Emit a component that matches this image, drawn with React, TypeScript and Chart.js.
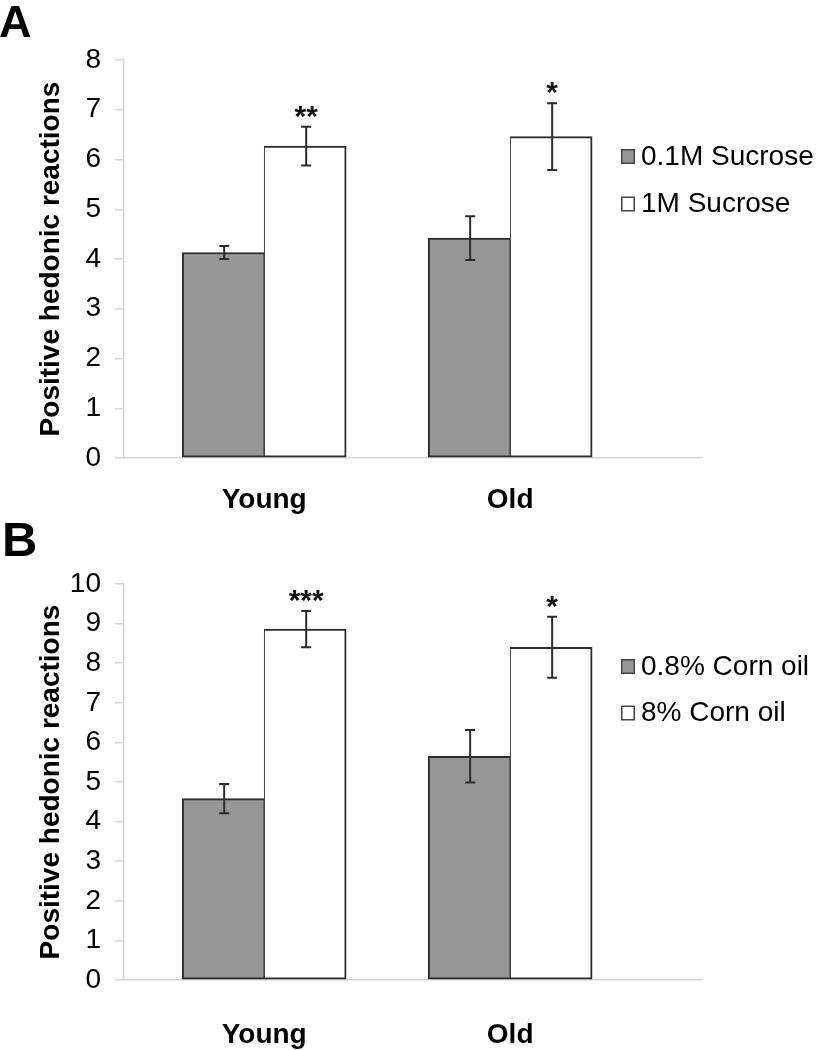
import React, { useEffect, useRef } from 'react';
import { Chart, registerables } from 'chart.js';

Chart.register(...registerables);

const FONT = "'Liberation Sans', Arial, Helvetica, sans-serif";

// ---- shared ----
const categories = ['Young', 'Old'];
const yTitle = 'Positive hedonic reactions';

// ---- Panel A: sucrose ----
const sucroseLabels = ['0.1M Sucrose', '1M Sucrose'];
const sucroseLow = [4.13, 4.42];
const sucroseLowErr = [0.13, 0.44];
const sucroseHigh = [6.27, 6.46];
const sucroseHighErr = [0.39, 0.67];
const sucroseStars = ['**', '*'];
const sucroseYMax = 8;

// ---- Panel B: corn oil ----
const cornLabels = ['0.8% Corn oil', '8% Corn oil'];
const cornLow = [4.58, 5.65];
const cornLowErr = [0.37, 0.66];
const cornHigh = [8.86, 8.4];
const cornHighErr = [0.46, 0.77];
const cornStars = ['***', '*'];
const cornYMax = 10;

const AXIS_GRAY = '#d6d6d6';
const BAR_GRAY = '#969696';
const EDGE = '#2b2b2b';

function makeErrorPlugin(errors: number[][], stars: (string[] | null)[]) {
  return {
    id: 'errorBars',
    afterDatasetsDraw(chart: any) {
      const { ctx } = chart;
      const yScale = chart.scales.y;
      chart.data.datasets.forEach((ds: any, i: number) => {
        const meta = chart.getDatasetMeta(i);
        meta.data.forEach((bar: any, j: number) => {
          const v = ds.data[j].y;
          const e = errors[i][j];
          const top = yScale.getPixelForValue(v + e);
          const bot = yScale.getPixelForValue(v - e);
          const x = bar.x + 1;
          ctx.save();
          ctx.strokeStyle = EDGE;
          ctx.lineWidth = 2;
          ctx.beginPath();
          ctx.moveTo(x, top);
          ctx.lineTo(x, bot);
          ctx.moveTo(x - 5, top);
          ctx.lineTo(x + 5, top);
          ctx.moveTo(x - 5, bot);
          ctx.lineTo(x + 5, bot);
          ctx.stroke();
          const s = stars[i] ? stars[i]![j] : null;
          if (s) {
            ctx.font = `bold 30px ${FONT}`;
            ctx.fillStyle = '#111';
            ctx.textAlign = 'center';
            ctx.textBaseline = 'alphabetic';
            const m = ctx.measureText(s);
            const inkBottom = top - 9;
            ctx.fillText(s, x, inkBottom - m.actualBoundingBoxDescent);
          }
          ctx.restore();
        });
      });
    },
  };
}

function makeLegendPlugin(x: number, y: number, gap: number) {
  return {
    id: 'boxLegend',
    afterDraw(chart: any) {
      const { ctx } = chart;
      chart.data.datasets.forEach((ds: any, i: number) => {
        const cy = y + i * gap;
        ctx.save();
        ctx.fillStyle = ds.backgroundColor;
        ctx.fillRect(x, cy - 8, 14, 15);
        ctx.strokeStyle = '#444';
        ctx.lineWidth = 1.5;
        ctx.strokeRect(x + 0.75, cy - 7.25, 12.5, 13.5);
        ctx.fillStyle = '#000';
        ctx.font = `28px ${FONT}`;
        ctx.textAlign = 'left';
        ctx.textBaseline = 'middle';
        ctx.fillText(ds.label, x + 20, cy);
        ctx.restore();
      });
    },
  };
}

type PanelProps = {
  labels: string[];
  low: number[];
  lowErr: number[];
  high: number[];
  highErr: number[];
  stars: string[];
  yMax: number;
  height: number;
  areaTop: number;
  areaBottom: number;
  xLabelPad: number;
  legendY: number;
  legendGap: number;
};

function Panel(p: PanelProps) {
  const ref = useRef<HTMLCanvasElement | null>(null);
  useEffect(() => {
    if (!ref.current) return;
    const chart = new Chart(ref.current, {
      type: 'bar',
      data: {
        datasets: [
          {
            label: p.labels[0],
            data: p.low.map((v, j) => ({ x: j + 1, y: v })),
            backgroundColor: BAR_GRAY,
            borderColor: EDGE,
            borderWidth: { top: 2, left: 2, right: 1, bottom: 2 },
            borderSkipped: false,
            barThickness: 82,
          },
          {
            label: p.labels[1],
            data: p.high.map((v, j) => ({ x: j + 1, y: v })),
            backgroundColor: '#ffffff',
            borderColor: EDGE,
            borderWidth: { top: 2, left: 1, right: 2, bottom: 2 },
            borderSkipped: false,
            barThickness: 82,
          },
        ],
      } as any,
      options: {
        animation: false,
        responsive: false,
        devicePixelRatio: 1,
        layout: { padding: { top: p.areaTop, right: 114, left: 0, bottom: 0 } },
        plugins: {
          legend: { display: false },
          tooltip: { enabled: false },
        },
        scales: {
          x: {
            type: 'linear',
            min: 0.43,
            max: 2.78,
            offset: false,
            afterBuildTicks: (s: any) => {
              s.ticks = categories.map((_, i) => ({ value: i + 1 }));
            },
            afterFit: (s: any) => {
              s.height = p.height - p.areaBottom;
            },
            ticks: {
              callback: (v: any) => categories[Math.round(Number(v)) - 1] ?? '',
              font: { family: FONT, size: 28, weight: 'bold' },
              color: '#000',
              padding: p.xLabelPad,
              autoSkip: false,
              maxRotation: 0,
            },
            grid: { display: false },
            border: { display: true, color: AXIS_GRAY, width: 1.5 },
          },
          y: {
            min: 0,
            max: p.yMax,
            afterFit: (s: any) => {
              s.width = 124;
            },
            ticks: {
              stepSize: 1,
              font: { family: FONT, size: 28 },
              color: '#000',
              padding: 14,
            },
            grid: {
              drawOnChartArea: false,
              drawTicks: true,
              tickLength: 9,
              color: AXIS_GRAY,
              lineWidth: 1.5,
            },
            border: { display: true, color: AXIS_GRAY, width: 1.5 },
            title: {
              display: true,
              text: yTitle,
              font: { family: FONT, size: 28, weight: 'bold' },
              color: '#000',
              padding: { top: 34, bottom: 0 },
            },
          },
        },
      } as any,
      plugins: [
        makeErrorPlugin([p.lowErr, p.highErr], [null, p.stars]),
        makeLegendPlugin(621, p.legendY, p.legendGap),
      ],
    });
    return () => chart.destroy();
  }, []);
  return <canvas ref={ref} width={816} height={p.height} style={{ display: 'block', width: 816, height: p.height }} />;
}

export default function App() {
  return (
    <div style={{ position: 'absolute', left: 0, top: 0, width: 816, height: 1050, background: '#fff', overflow: 'hidden' }}>
      <div style={{ position: 'absolute', left: 0, top: 0 }}>
        <Panel
          labels={sucroseLabels}
          low={sucroseLow}
          lowErr={sucroseLowErr}
          high={sucroseHigh}
          highErr={sucroseHighErr}
          stars={sucroseStars}
          yMax={sucroseYMax}
          height={525}
          areaTop={60}
          areaBottom={458}
          xLabelPad={17}
          legendY={157}
          legendGap={47.5}
        />
      </div>
      <div style={{ position: 'absolute', left: 0, top: 525 }}>
        <Panel
          labels={cornLabels}
          low={cornLow}
          lowErr={cornLowErr}
          high={cornHigh}
          highErr={cornHighErr}
          stars={cornStars}
          yMax={cornYMax}
          height={525}
          areaTop={59}
          areaBottom={455}
          xLabelPad={30}
          legendY={142}
          legendGap={46.5}
        />
      </div>
      <div style={{ position: 'absolute', left: -1, top: -1, font: `bold 45px/1 ${FONT}`, color: '#000' }}>A</div>
      <div style={{ position: 'absolute', left: 2, top: 515, font: `bold 49px/1 ${FONT}`, color: '#000' }}>B</div>
    </div>
  );
}
